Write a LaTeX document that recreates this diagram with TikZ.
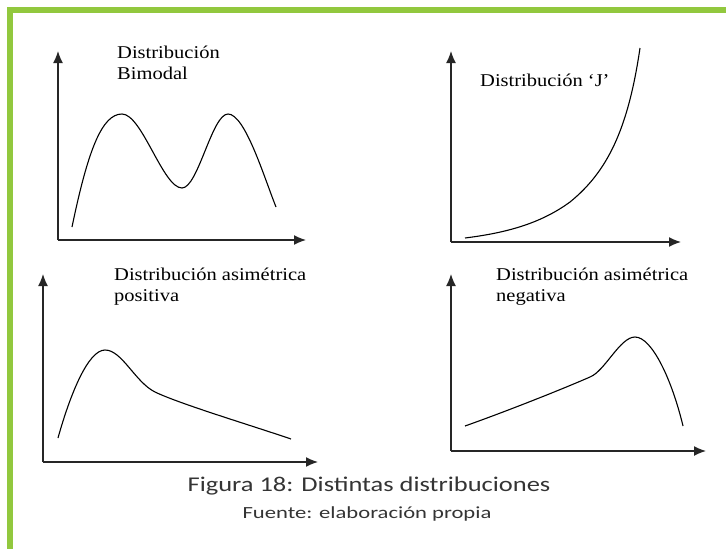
\documentclass[tikz,border=0pt]{standalone}
\usepackage{fontspec}
\usetikzlibrary{arrows.meta}
\newfontfamily\plotfont[FakeStretch=1.14]{Liberation Serif}
\newfontfamily\capfont[FakeStretch=1.26]{Carlito}
\newfontfamily\srcfont[FakeStretch=1.33]{Carlito}
\definecolor{framegreen}{RGB}{146,200,62}
\definecolor{capgray}{RGB}{52,52,52}

\begin{document}
\begin{tikzpicture}[x=1pt,y=-1pt,
    axis/.style={line width=1.4pt, black!85, -{Latex[length=12pt,width=10pt]}},
    curve/.style={line width=1.1pt, black},
    lbl/.style={anchor=base west, inner sep=0pt, font=\plotfont\fontsize{18}{20}\selectfont}]
        \useasboundingbox (0,0) rectangle (726,549);

        \draw[framegreen, line width=5.5pt] (10,549) -- (10,10) -- (726,10);

        % bimodal
        \coordinate (o1) at (58,240);
        \coordinate (y1) at (58,51);
        \coordinate (x1) at (306,240);
        \draw[axis] (o1) -- (y1);
        \draw[axis] (o1) -- (x1);
        \draw[curve] (72,227) .. controls (88,150) and (102,114) .. (122,114)
            .. controls (142,114) and (163,188) .. (182,188)
            .. controls (198,188) and (212,114) .. (228,114)
            .. controls (245,114) and (264,177) .. (276,207);
        \node[lbl] (t1a) at (117,58.3) {Distribución};
        \node[lbl] (t1b) at (117,79) {Bimodal};

        % J
        \coordinate (o2) at (451,242);
        \coordinate (y2) at (451,51);
        \coordinate (x2) at (681,242);
        \draw[axis] (o2) -- (y2);
        \draw[axis] (o2) -- (x2);
        \draw[curve] (465,238) .. controls (505,233) and (540,224) .. (570,202)
            .. controls (607,172) and (628,130) .. (640,48);
        \node[lbl] (t2) at (480,86.7) {Distribución ‘J’};

        % asimetrica positiva
        \coordinate (o3) at (43,462);
        \coordinate (y3) at (43,274);
        \coordinate (x3) at (318,462);
        \draw[axis] (o3) -- (y3);
        \draw[axis] (o3) -- (x3);
        \draw[curve] (58,438) .. controls (70,395) and (88,350) .. (105,350)
            .. controls (122,350) and (135,382) .. (155,392)
            .. controls (180,404) and (250,425) .. (291,439);
        \node[lbl] (t3a) at (114,280) {Distribución asimétrica};
        \node[lbl] (t3b) at (114,301) {positiva};

        % asimetrica negativa
        \coordinate (o4) at (451,451);
        \coordinate (y4) at (451,274);
        \coordinate (x4) at (706,451);
        \draw[axis] (o4) -- (y4);
        \draw[axis] (o4) -- (x4);
        \draw[curve] (465,426) .. controls (510,410) and (565,388) .. (590,377)
            .. controls (605,371) and (620,337) .. (635,337)
            .. controls (652,337) and (672,380) .. (683,426);
        \node[lbl] (t4a) at (496,280) {Distribución asimétrica};
        \node[lbl] (t4b) at (496,301) {negativa};

        \node[anchor=base, inner sep=0pt, capgray, font=\capfont\fontsize{21}{24}\selectfont] (cap) at (369,491.5) {Figura 18: Distintas distribuciones};
        \node[anchor=base, inner sep=0pt, capgray, font=\srcfont\fontsize{17}{20}\selectfont] (src) at (367,518) {Fuente: elaboración propia};
    \end{tikzpicture}
\end{document}
